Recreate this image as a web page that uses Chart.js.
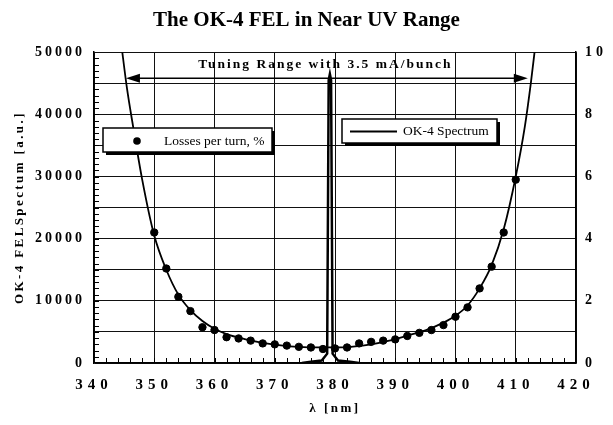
<!DOCTYPE html>
<html><head><meta charset="utf-8">
<script src="https://cdn.jsdelivr.net/npm/chart.js@4"></script>
<style>html,body{margin:0;padding:0;background:#fff;overflow:hidden}#wrap{width:613px;height:425px;position:relative}</style>
</head><body><div id="wrap"><canvas id="c" width="613" height="425"></canvas></div>
<script>
const titleText = 'The OK-4 FEL in Near UV Range';
const xAxisTitle = 'λ [nm]';
const yAxisTitle = 'OK-4 FELSpectum [a.u.]';
const annotationText = 'Tuning Range with 3.5 mA/bunch';
const lossLabel = 'Losses per turn, %';
const spectrumLabel = 'OK-4 Spectrum';

// measured losses per turn (%), right axis
const lossWavelength = [350,352,354,356,358,360,362,364,366,368,370,372,374,376,378,380,382,384,386,388,390,392,394,396,398,400,402,404,406,408,410];
const lossValues     = [4.2,3.04,2.13,1.67,1.15,1.06,0.83,0.79,0.72,0.63,0.60,0.56,0.52,0.50,0.45,0.47,0.50,0.63,0.68,0.72,0.76,0.87,0.97,1.06,1.22,1.49,1.79,2.40,3.10,4.2,5.9];

// fitted losses curve, right axis
const fitWavelength = [344.5,345.5,346.5,348,350,352,354,356,358,360,362,365,368,371,374,377,380,383,386,389,392,395,398,400,402,404,406,408,410,411.5,412.5,413.3];
const fitValues     = [10.3,8.8,7.6,5.9,4.1,3.0,2.2,1.7,1.35,1.1,0.93,0.77,0.65,0.57,0.52,0.5,0.5,0.53,0.6,0.72,0.88,1.05,1.3,1.52,1.85,2.4,3.15,4.3,6.0,7.6,9.0,10.3];

// OK-4 FEL spectrum, left axis
const spectrumWavelength = [374.5,376,377.8,378.7,378.95,379.15,379.35,379.6,380.5,382.5,384];
const spectrumValues     = [0,200,400,1500,45500,46500,45500,1500,400,200,0];

// tuning range annotation (nm) and its level on the left axis
const tuningRange = [345.3, 412.0];
const tuningLevel = 45800;
const tuningTextPos = [378.4, 48000];

const serif = "'Liberation Serif','Times New Roman',serif";

function pts(xs, ys){ return xs.map((x,i)=>({x:x, y:ys[i]})); }

const spacing = {x:{labels:'5px', title:'2.5px'}, y:{labels:'3px', title:'2.4px'}, y2:{labels:'4px', title:'0px'}};

const decor = {
  id:'decor',
  beforeDraw(chart){
    for (const id in chart.scales){
      const s = chart.scales[id];
      if (s._wrappedSpacing) continue;
      s._wrappedSpacing = true;
      const sp = spacing[id] || {labels:'0px', title:'0px'};
      const dl = s.drawLabels, dt = s.drawTitle;
      s.drawLabels = function(a){ const c=this.ctx; c.save(); c.letterSpacing=sp.labels; dl.call(this,a); c.restore(); };
      s.drawTitle = function(){ const c=this.ctx; c.save(); c.letterSpacing=sp.title; dt.call(this); c.restore(); };
    }
  },
  afterDatasetsDraw(chart){
    const ctx = chart.ctx, xs = chart.scales.x, ys = chart.scales.y, a = chart.chartArea;
    ctx.save();
    ctx.strokeStyle = '#000'; ctx.lineWidth = 1;
    // minor ticks
    ctx.beginPath();
    for (let v = 1000; v < 50000; v += 1000){
      const py = Math.round(ys.getPixelForValue(v)) + 0.5;
      ctx.moveTo(a.left, py); ctx.lineTo(a.left + 5, py);
    }
    for (let v = 342; v < 420; v += 2){
      const px = Math.round(xs.getPixelForValue(v)) + 0.5;
      ctx.moveTo(px, a.bottom); ctx.lineTo(px, a.bottom - 5);
    }
    ctx.stroke();
    // tuning range arrow
    const y0 = ys.getPixelForValue(tuningLevel);
    const xl = xs.getPixelForValue(tuningRange[0]), xr = xs.getPixelForValue(tuningRange[1]);
    ctx.lineWidth = 1.6;
    ctx.beginPath(); ctx.moveTo(xl + 10, y0); ctx.lineTo(xr - 10, y0); ctx.stroke();
    ctx.fillStyle = '#000';
    ctx.beginPath(); ctx.moveTo(xl, y0); ctx.lineTo(xl + 14, y0 - 4.5); ctx.lineTo(xl + 14, y0 + 4.5); ctx.closePath(); ctx.fill();
    ctx.beginPath(); ctx.moveTo(xr, y0); ctx.lineTo(xr - 14, y0 - 4.5); ctx.lineTo(xr - 14, y0 + 4.5); ctx.closePath(); ctx.fill();
    ctx.font = 'bold 13.5px ' + serif;
    ctx.letterSpacing = '2px';
    ctx.textAlign = 'center'; ctx.textBaseline = 'middle';
    ctx.fillText(annotationText, xs.getPixelForValue(tuningTextPos[0]), ys.getPixelForValue(tuningTextPos[1]));
    ctx.restore();
  },
  afterDraw(chart){
    const ctx = chart.ctx;
    ctx.save();
    function box(x, y, w, h){
      ctx.fillStyle = '#000'; ctx.fillRect(x + 3, y + 3, w, h);
      ctx.fillStyle = '#fff'; ctx.fillRect(x, y, w, h);
      ctx.strokeStyle = '#000'; ctx.lineWidth = 1.5; ctx.strokeRect(x, y, w, h);
    }
    ctx.font = '13.5px ' + serif;
    ctx.textBaseline = 'middle'; ctx.textAlign = 'left';
    // legend: losses
    box(103, 128, 169, 24);
    ctx.fillStyle = '#000';
    ctx.beginPath(); ctx.arc(137, 141, 3.8, 0, Math.PI*2); ctx.fill();
    ctx.save(); ctx.beginPath(); ctx.rect(103, 128, 169, 24); ctx.clip();
    ctx.fillText(lossLabel, 164, 141); ctx.restore();
    // legend: spectrum
    box(342, 119, 155, 24);
    ctx.strokeStyle = '#000'; ctx.lineWidth = 2.2;
    ctx.beginPath(); ctx.moveTo(350, 131.5); ctx.lineTo(397, 131.5); ctx.stroke();
    ctx.save(); ctx.beginPath(); ctx.rect(342, 119, 155, 24); ctx.clip();
    ctx.fillStyle = '#000'; ctx.fillText(spectrumLabel, 403, 131.5); ctx.restore();
    ctx.restore();
  }
};

new Chart(document.getElementById('c'), {
  type: 'scatter',
  data: {
    datasets: [
      { label: lossLabel, data: pts(lossWavelength, lossValues), yAxisID: 'y2', showLine: false,
        pointRadius: 3.7, pointBackgroundColor: '#000', pointBorderColor: '#000', borderColor: '#000' },
      { label: 'fit', data: pts(fitWavelength, fitValues), yAxisID: 'y2', showLine: true,
        pointRadius: 0, borderColor: '#000', borderWidth: 1.8, cubicInterpolationMode: 'monotone' },
      { label: spectrumLabel, data: pts(spectrumWavelength, spectrumValues), yAxisID: 'y', showLine: true,
        pointRadius: 0, borderColor: '#000', borderWidth: 2.5, tension: 0 }
    ]
  },
  options: {
    responsive: false, animation: false, devicePixelRatio: 1,
    layout: { padding: 0 },
    plugins: {
      legend: { display: false }, tooltip: { enabled: false },
      title: { display: true, text: titleText, color: '#000',
        font: { family: serif, size: 21, weight: 'bold' }, padding: { top: 8, bottom: 19 } }
    },
    scales: {
      x: { type: 'linear', min: 340, max: 420,
        afterFit(s){ s.height = 62; },
        ticks: { stepSize: 10, color: '#000', padding: 13, maxRotation: 0, autoSkip: false,
          font: { family: serif, size: 15, weight: 'bold' }, callback: v => String(v) },
        grid: { color: '#111', lineWidth: 1, drawTicks: false },
        border: { color: '#000', width: 1.5 },
        title: { display: true, text: xAxisTitle, color: '#000', font: { family: serif, size: 13, weight: 'bold' }, padding: { bottom: 9 } }
      },
      y: { min: 0, max: 50000, position: 'left',
        afterFit(s){ s.width = 94; },
        ticks: { stepSize: 5000, color: '#000', padding: 9,
          font: { family: serif, size: 14, weight: 'bold' },
          callback: v => (v % 10000 === 0 ? String(v) : '') },
        grid: { color: '#111', lineWidth: 1, drawTicks: false },
        border: { color: '#000', width: 1.5 },
        title: { display: true, text: yAxisTitle, color: '#000', font: { family: serif, size: 13, weight: 'bold' }, padding: { top: 12 } }
      },
      y2: { min: 0, max: 10, position: 'right',
        afterFit(s){ s.width = 37; },
        ticks: { stepSize: 1, color: '#000', padding: 9,
          font: { family: serif, size: 14, weight: 'bold' },
          callback: v => (v % 2 === 0 ? String(v) : '') },
        grid: { drawOnChartArea: false, drawTicks: false },
        border: { color: '#000', width: 1.5 }
      }
    }
  },
  plugins: [decor]
});
</script></body></html>
